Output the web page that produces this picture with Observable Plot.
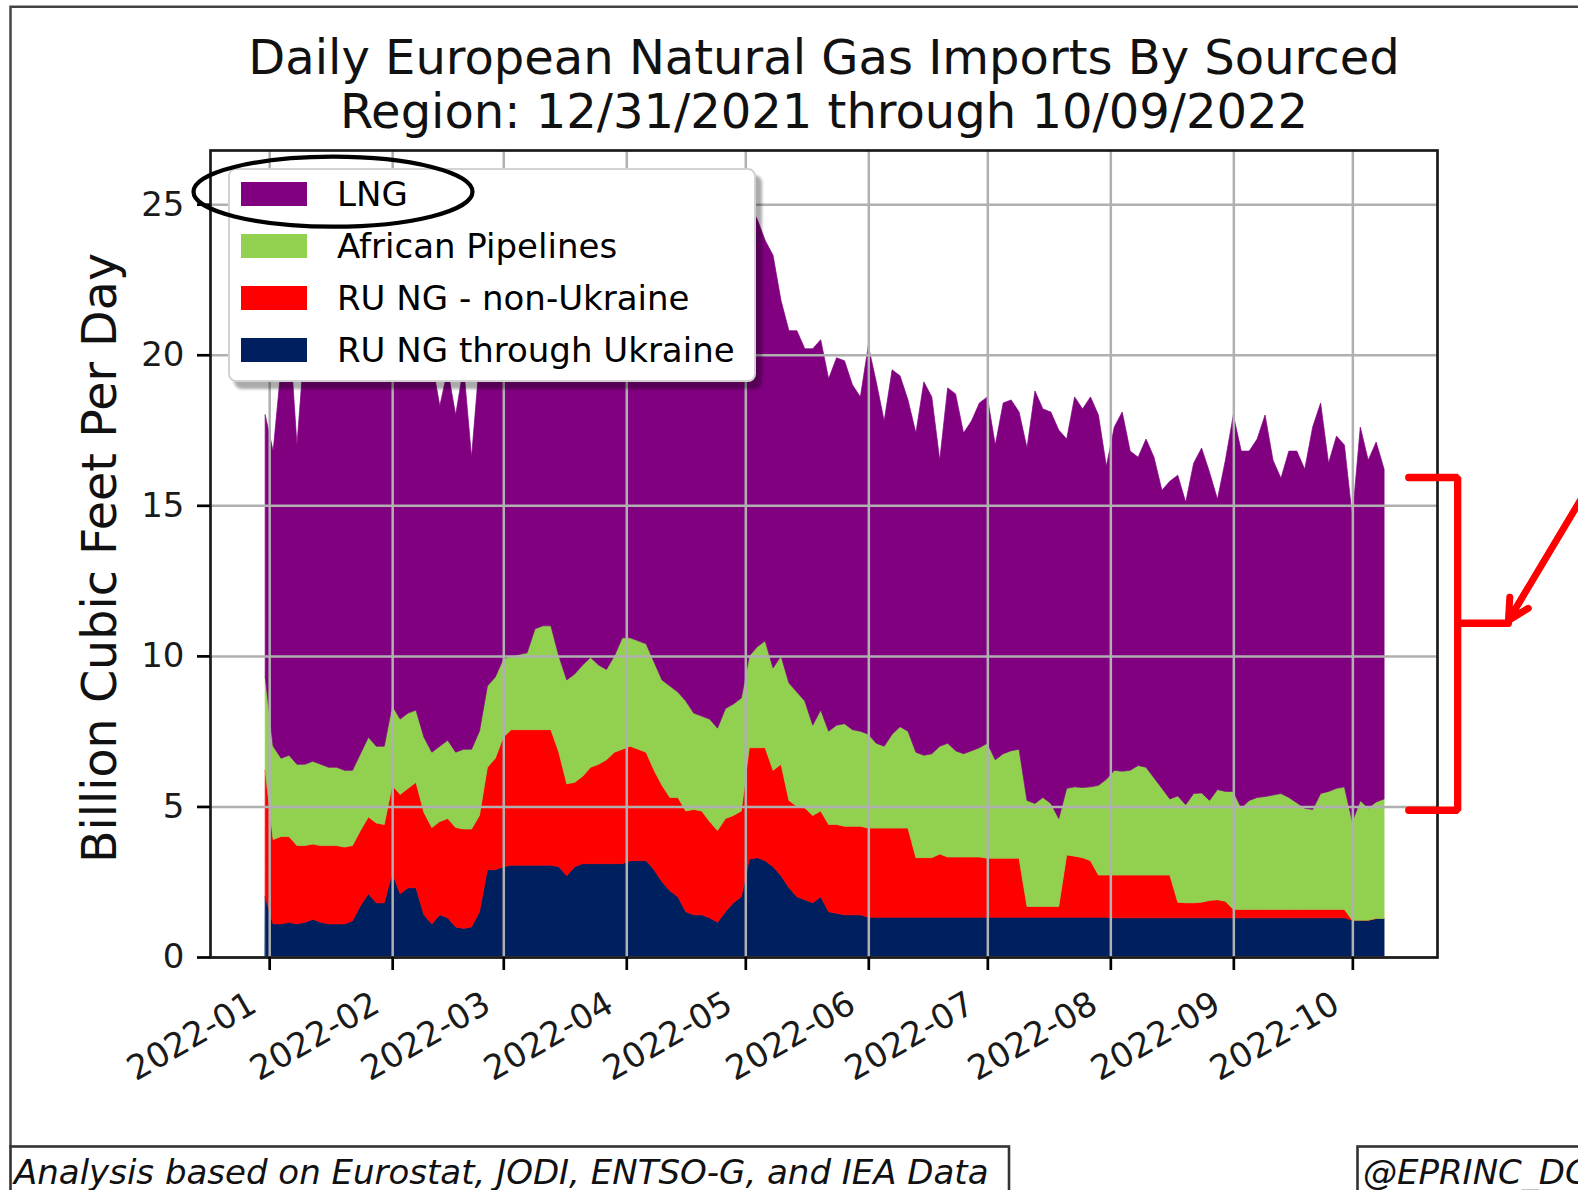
<!DOCTYPE html>
<html>
<head>
<meta charset="utf-8">
<script src="https://cdn.jsdelivr.net/npm/d3@7"></script>
<script src="https://cdn.jsdelivr.net/npm/@observablehq/plot@0.6"></script>
<style>
  html, body { margin: 0; padding: 0; background: #fff; }
  #wrap { position: relative; width: 1578px; height: 1190px; overflow: hidden; font-family: "DejaVu Sans", sans-serif; background: #fff; }
  #chart { position: absolute; left: 0; top: 0; }
  .legend { position: absolute; left: 228px; top: 168px; width: 528px; height: 214px; background: #fff;
            border: 2px solid #d2d2d2; border-radius: 8px; box-sizing: border-box;
            box-shadow: 6px 7px 3px rgba(0,0,0,0.33); }
  .item { position: absolute; left: 11px; height: 24px; }
  .sw { position: absolute; left: 0; top: 0; width: 66px; height: 24px; }
  .lab { position: absolute; left: 96px; top: -5px; line-height: 34px; font-size: 34px; white-space: nowrap; color: #000; }
  #overlay { position: absolute; left: 0; top: 0; pointer-events: none; }
</style>
</head>
<body>
<div id="wrap">
  <div id="chart"></div>
  <div class="legend" id="legend"></div>
  <svg id="overlay" width="1578" height="1190"></svg>
</div>
<script>
// ---------------- data (every 2 days from 2021-12-31 to 2022-10-09) ----------------
const seriesNames = ["RU NG through Ukraine", "RU NG - non-Ukraine", "African Pipelines", "LNG"];
const seriesColors = ["#001f5f", "#ff0000", "#92d050", "#800080"];
const legendOrder = ["LNG", "African Pipelines", "RU NG - non-Ukraine", "RU NG through Ukraine"];

const firstDay = "2021-12-31";
const stepDays = 2;

const ruUkraine = [
  2.0,
  1.1, 1.1, 1.15, 1.1, 1.15, 1.25, 1.15, 1.1, 1.1, 1.1, 1.2, 1.7, 2.1, 1.8, 1.8,
  2.8, 2.1, 2.3, 2.3, 1.4, 1.1, 1.4, 1.3, 1.0, 0.95, 1.0, 1.5, 2.9, 2.9,
  3.0, 3.05, 3.05, 3.05, 3.05, 3.05, 3.05, 3.0, 2.7, 3.0, 3.1, 3.1, 3.1, 3.1, 3.1, 3.1,
  3.2, 3.2, 3.2, 2.9, 2.5, 2.2, 2.0, 1.5, 1.4, 1.4, 1.3, 1.15, 1.5, 1.8, 2.0,
  3.25, 3.3, 3.2, 3.0, 2.7, 2.3, 2.0, 1.9, 1.8, 2.0, 1.5, 1.45, 1.4, 1.4, 1.4,
  1.32, 1.32, 1.32, 1.32, 1.32, 1.32, 1.32, 1.32, 1.32, 1.32, 1.32, 1.32, 1.32, 1.32, 1.32,
  1.32, 1.32, 1.32, 1.32, 1.32, 1.32, 1.32, 1.32, 1.32, 1.32, 1.32, 1.32, 1.32, 1.32, 1.32, 1.32,
  1.3, 1.3, 1.3, 1.3, 1.3, 1.3, 1.3, 1.3, 1.3, 1.3, 1.3, 1.3, 1.3, 1.3, 1.3,
  1.3, 1.3, 1.3, 1.3, 1.3, 1.3, 1.3, 1.3, 1.3, 1.3, 1.3, 1.3, 1.3, 1.3, 1.3,
  1.22, 1.22, 1.22, 1.28, 1.28
];
const ruNonUkraine = [
  4.2,
  2.8, 2.9, 2.85, 2.6, 2.55, 2.5, 2.55, 2.6, 2.6, 2.55, 2.5, 2.5, 2.55, 2.65, 2.6,
  2.9, 3.3, 3.3, 3.5, 3.4, 3.2, 3.1, 3.3, 3.3, 3.3, 3.25, 3.2, 3.4, 3.7,
  4.3, 4.5, 4.5, 4.5, 4.5, 4.5, 4.5, 3.8, 3.05, 2.8, 2.9, 3.2, 3.3, 3.45, 3.7, 3.8,
  3.8, 3.7, 3.6, 3.3, 3.2, 3.1, 3.3, 3.35, 3.5, 3.45, 3.2, 3.05, 3.1, 2.9, 2.85,
  3.7, 3.65, 3.75, 3.2, 3.7, 2.9, 3.0, 3.05, 2.9, 2.85, 2.9, 2.95, 2.94, 2.94, 2.94,
  2.96, 2.96, 2.96, 2.96, 2.96, 2.96, 1.98, 1.98, 1.98, 2.1, 2.0, 2.0, 2.0, 2.0, 2.0,
  1.96, 1.96, 1.96, 1.96, 1.96, 0.36, 0.36, 0.36, 0.36, 0.36, 2.07, 2.03, 1.98, 1.88, 1.4, 1.4,
  1.42, 1.42, 1.42, 1.42, 1.42, 1.42, 1.42, 1.42, 0.52, 0.5, 0.5, 0.52, 0.58, 0.6, 0.55,
  0.28, 0.28, 0.28, 0.28, 0.28, 0.28, 0.28, 0.28, 0.28, 0.28, 0.28, 0.28, 0.28, 0.28, 0.28,
  0, 0, 0, 0, 0
];
const african = [
  3.1,
  3.1, 2.6, 2.7, 2.7, 2.7, 2.75, 2.7, 2.6, 2.6, 2.55, 2.5, 2.55, 2.65, 2.55, 2.6,
  2.65, 2.5, 2.5, 2.4, 2.5, 2.5, 2.5, 2.6, 2.5, 2.65, 2.65, 2.8, 2.7, 2.7,
  2.6, 2.45, 2.5, 2.55, 3.35, 3.45, 3.45, 3.2, 3.45, 3.6, 3.7, 3.65, 3.3, 3.0, 3.2, 3.7,
  3.6, 3.6, 3.6, 3.6, 3.5, 3.7, 3.5, 3.65, 3.2, 3.15, 3.4, 3.4, 3.65, 3.7, 3.75,
  3.05, 3.35, 3.55, 3.4, 3.6, 3.9, 3.8, 3.55, 3.0, 3.35, 3.1, 3.3, 3.41, 3.21, 3.16,
  3.12, 2.82, 2.72, 3.12, 3.37, 3.22, 3.5, 3.4, 3.45, 3.58, 3.78, 3.53, 3.43, 3.53, 3.63,
  3.82, 3.27, 3.47, 3.57, 3.62, 3.52, 3.42, 3.62, 3.42, 2.92, 2.21, 2.3, 2.33, 2.45, 2.98, 3.18,
  3.48, 3.45, 3.48, 3.64, 3.58, 3.23, 2.88, 2.53, 3.53, 3.26, 3.63, 3.63, 3.32, 3.66, 3.65,
  3.92, 3.37, 3.62, 3.72, 3.75, 3.8, 3.85, 3.72, 3.54, 3.36, 3.32, 3.85, 3.92, 4.02, 4.07,
  3.28, 3.97, 3.73, 3.87, 3.97
];
const lng = [
  8.7,
  9.8, 13.0, 14.3, 10.6, 14.1, 15.0, 15.4, 15.7, 15.2, 14.8, 15.3, 15.25, 14.5, 14.2, 13.8,
  12.65, 13.6, 13.2, 12.6, 13.2, 13.0, 11.3, 12.3, 11.2, 12.7, 9.7, 12.3, 12.0, 12.2,
  12.1, 12.5, 11.95, 12.7, 12.1, 11.5, 11.8, 12.0, 12.3, 12.6, 12.8, 13.05, 12.8, 12.45, 12.8, 12.6,
  12.4, 12.0, 12.6, 13.0, 12.8, 13.5, 14.2, 14.0, 13.9, 14.8, 15.6, 15.4, 15.75, 16.4, 16.9,
  15.0, 14.2, 13.3, 13.7, 11.8, 11.7, 12.0, 11.7, 12.5, 12.3, 11.7, 12.2, 12.05, 11.45, 11.1,
  12.9, 12.0, 10.8, 12.1, 11.65, 11.0, 10.6, 12.4, 11.85, 9.5, 11.8, 11.85, 10.65, 10.95, 11.45,
  11.5, 10.45, 11.65, 11.65, 11.2, 11.7, 13.7, 12.9, 13.0, 12.9, 11.6, 12.95, 12.57, 12.95, 12.3, 10.4,
  11.4, 11.93, 10.6, 10.24, 10.9, 10.65, 9.9, 10.55, 10.65, 10.04, 10.97, 11.45, 10.9, 9.64, 11.0,
  12.5, 11.85, 11.6, 11.9, 12.67, 11.12, 10.47, 11.5, 11.68, 11.26, 12.7, 12.97, 10.9, 11.7, 11.35,
  10.1, 12.41, 11.55, 11.95, 10.95
];

const yTicks = [0, 5, 10, 15, 20, 25];
const monthTicks = ["2022-01-01", "2022-02-01", "2022-03-01", "2022-04-01", "2022-05-01",
                    "2022-06-01", "2022-07-01", "2022-08-01", "2022-09-01", "2022-10-01"];
const monthLabels = ["2022-01", "2022-02", "2022-03", "2022-04", "2022-05",
                     "2022-06", "2022-07", "2022-08", "2022-09", "2022-10"];
const xDomain = ["2021-12-17T02:00Z", "2022-10-22T08:00Z"];
const yDomain = [0, 26.8];

const titleLines = ["Daily European Natural Gas Imports By Sourced", "Region: 12/31/2021 through 10/09/2022"];
const yLabel = "Billion Cubic Feet Per Day";
const footLeft = "Analysis based on Eurostat, JODI, ENTSO-G, and IEA Data";
const footRight = "@EPRINC_DC";

// red bracket annotation (in data units)
const bracketDates = ["2022-10-15T02:00Z", "2022-10-27T10:00Z", "2022-10-27T10:00Z", "2022-10-15T02:00Z"];
const bracketValues = [15.94, 15.94, 4.89, 4.89];
const bracketTickDates = ["2022-10-27T10:00Z", "2022-11-09T05:00Z"];
const bracketTickValues = [11.1, 11.1];
const arrowFrom = {date: "2022-12-02T10:00Z", value: 16.3};
const arrowTo = {date: "2022-11-09T05:00Z", value: 11.19};

// ---------------- build table ----------------
const t0 = new Date(firstDay + "T00:00Z").getTime();
const dates = d3.range(ruUkraine.length).map(i => new Date(t0 + i * stepDays * 864e5));
const seriesValues = [ruUkraine, ruNonUkraine, african, lng];
const rows = seriesNames.flatMap((s, j) => seriesValues[j].map((v, i) => ({date: dates[i], series: s, value: v})));
const tickDates = monthTicks.map(s => new Date(s + "T00:00Z"));
const bracketRows = bracketDates.map((d, i) => ({date: new Date(d), value: bracketValues[i], part: "body"}))
  .concat(bracketTickDates.map((d, i) => ({date: new Date(d), value: bracketTickValues[i], part: "tick"})));

const chart = Plot.plot({
  width: 1578,
  height: 1190,
  marginLeft: 210,
  marginRight: 141,
  marginTop: 150,
  marginBottom: 233,
  style: {background: "transparent", fontFamily: "DejaVu Sans, sans-serif", color: "#000", overflow: "visible"},
  x: {type: "utc", domain: xDomain.map(d => new Date(d))},
  y: {domain: yDomain},
  color: {domain: seriesNames, range: seriesColors},
  marks: [
    Plot.areaY(rows, {x: "date", y: "value", fill: "series", stroke: "series", strokeWidth: 0.7,
                      order: seriesNames, curve: "linear"}),
    Plot.gridX(tickDates, {stroke: "#b0b0b0", strokeOpacity: 1, strokeWidth: 2.5}),
    Plot.gridY(yTicks, {stroke: "#b0b0b0", strokeOpacity: 1, strokeWidth: 2.5}),
    Plot.frame({stroke: "#1a1a1a", strokeWidth: 2.7}),
    Plot.axisY(yTicks, {tickSize: 13, tickPadding: 13, strokeWidth: 2.7, fontSize: 34, label: null,
                        tickFormat: d => String(d), fill: "#1a1a1a"}),
    Plot.axisX(tickDates, {tickSize: 13, strokeWidth: 2.7, label: null, tickFormat: () => ""}),
    Plot.text(tickDates, {x: d => d, text: (d, i) => monthLabels[i], frameAnchor: "bottom",
                          rotate: -30, textAnchor: "end", lineAnchor: "bottom", dx: -11, dy: 53,
                          fontSize: 34, fill: "#1a1a1a"}),
    Plot.text([yLabel], {text: d => d, frameAnchor: "left", textAnchor: "middle", lineAnchor: "middle",
                         rotate: -90, dx: -110, dy: 4, fontSize: 47.6, fill: "#111"}),
    Plot.text([titleLines[0]], {text: d => d, frameAnchor: "top", textAnchor: "middle", lineAnchor: "bottom", dy: -76.5,
                                fontSize: 48, fill: "#111"}),
    Plot.text([titleLines[1]], {text: d => d, frameAnchor: "top", textAnchor: "middle", lineAnchor: "bottom", dy: -22.2,
                                fontSize: 48, fill: "#111"}),
    Plot.line(bracketRows, {x: "date", y: "value", z: "part", stroke: "#ff0000", strokeWidth: 7.3,
                            strokeLinejoin: "miter", curve: "linear"}),
    Plot.arrow([{x1: new Date(arrowFrom.date), y1: arrowFrom.value, x2: new Date(arrowTo.date), y2: arrowTo.value}],
               {x1: "x1", y1: "y1", x2: "x2", y2: "y2", stroke: "#ff0000", strokeWidth: 7, headLength: 5, headAngle: 55})
  ]
});
document.getElementById("chart").appendChild(chart);

// ---------------- legend ----------------
const legend = document.getElementById("legend");
legendOrder.forEach((name, i) => {
  const item = document.createElement("div");
  item.className = "item";
  item.style.top = (11.7 + i * 52.1) + "px";
  const sw = document.createElement("div");
  sw.className = "sw";
  sw.style.background = seriesColors[seriesNames.indexOf(name)];
  const lab = document.createElement("div");
  lab.className = "lab";
  lab.textContent = name;
  item.appendChild(sw);
  item.appendChild(lab);
  legend.appendChild(item);
});

// ---------------- page decorations: border, footer boxes, ellipse ----------------
const ov = d3.select("#overlay");
ov.append("path").attr("d", "M10.5,1147 V6.8 H1580").attr("fill", "none").attr("stroke", "#444").attr("stroke-width", 2.5);
ov.append("rect").attr("x", 10.5).attr("y", 1146.5).attr("width", 998.5).attr("height", 80)
  .attr("fill", "#fff").attr("stroke", "#333").attr("stroke-width", 2.6);
ov.append("rect").attr("x", 1357.5).attr("y", 1146.5).attr("width", 300).attr("height", 80)
  .attr("fill", "#fff").attr("stroke", "#333").attr("stroke-width", 2.6);
ov.append("text").attr("x", 14).attr("y", 1183.5).attr("font-size", 34).attr("font-style", "italic")
  .attr("font-family", "DejaVu Sans, sans-serif").attr("fill", "#111").text(footLeft);
ov.append("text").attr("x", 1363).attr("y", 1183.5).attr("font-size", 34).attr("font-style", "italic")
  .attr("font-family", "DejaVu Sans, sans-serif").attr("fill", "#111").text(footRight);
ov.append("ellipse").attr("cx", 333).attr("cy", 191.7).attr("rx", 139.5).attr("ry", 35)
  .attr("fill", "none").attr("stroke", "#000").attr("stroke-width", 4.2);
</script>
</body>
</html>
